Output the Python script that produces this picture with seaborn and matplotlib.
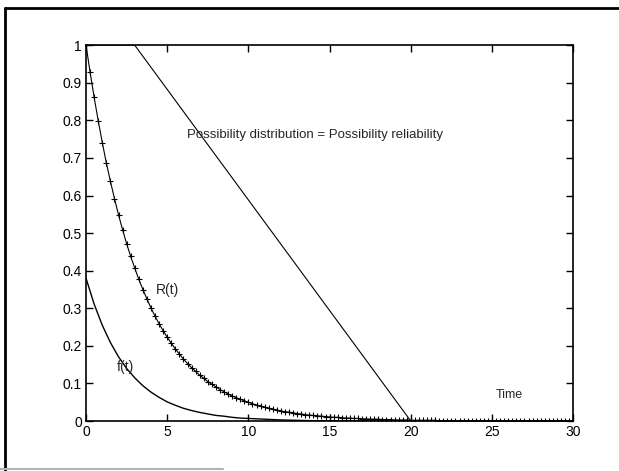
import numpy as np
import pandas as pd
import seaborn as sns
import matplotlib.pyplot as plt
from matplotlib.lines import Line2D

sns.set_theme(style="white")
plt.rcParams['font.family'] = ['Liberation Sans', 'DejaVu Sans']

# R(t) (t step 0.25)
t_R = np.arange(0, 30.01, 0.25)
R_vals = [1.000, 0.928, 0.861, 0.799, 0.741, 0.687, 0.638, 0.592,
          0.549, 0.509, 0.472, 0.438, 0.407, 0.377, 0.350, 0.325,
          0.301, 0.279, 0.259, 0.240, 0.223, 0.207, 0.192, 0.178,
          0.165, 0.153, 0.142, 0.132, 0.122, 0.114, 0.105, 0.098,
          0.091, 0.084, 0.078, 0.072, 0.067, 0.062, 0.058, 0.054,
          0.050, 0.046, 0.043, 0.040, 0.037, 0.034, 0.032, 0.029,
          0.027, 0.025, 0.024, 0.022, 0.020, 0.019, 0.017, 0.016,
          0.015, 0.014, 0.013, 0.012, 0.011, 0.010, 0.010, 0.009,
          0.008, 0.008, 0.007, 0.007, 0.006, 0.006, 0.005, 0.005,
          0.005, 0.004, 0.004, 0.004, 0.003, 0.003, 0.003, 0.003,
          0.002, 0.002, 0.002, 0.002, 0.002, 0.002, 0.002, 0.001,
          0.001, 0.001, 0.001, 0.001, 0.001, 0.001, 0.001, 0.001,
          0.001, 0.001, 0.001, 0.001, 0.001, 0.001, 0.000, 0.000,
          0.000, 0.000, 0.000, 0.000, 0.000, 0.000, 0.000, 0.000,
          0.000, 0.000, 0.000, 0.000, 0.000, 0.000, 0.000, 0.000,
          0.000]

# f(t), solid curve
t_f = [0, 0.5, 1, 1.5, 2, 2.5, 3, 3.5, 4, 4.5, 5, 5.5, 6, 6.5, 7, 7.5,
       8, 8.5, 9, 9.5, 10, 11, 12, 13, 14, 15, 20, 30]
f_vals = [0.380, 0.311, 0.255, 0.209, 0.171, 0.140, 0.115, 0.094, 0.077,
          0.063, 0.051, 0.042, 0.034, 0.028, 0.023, 0.019, 0.015, 0.013,
          0.010, 0.008, 0.007, 0.005, 0.003, 0.002, 0.001, 0.001, 0.000,
          0.000]

# possibility distribution (trapezoid)
t_pos = [0, 3, 20, 30]
pos_vals = [1, 1, 0, 0]

fig = plt.figure(figsize=(6.19, 4.71), dpi=100)
ax = fig.add_axes([0.139, 0.106, 0.787, 0.798])

sns.lineplot(x=t_pos, y=pos_vals, ax=ax, color="black", linewidth=0.8)
sns.lineplot(x=t_f, y=f_vals, ax=ax, color="black", linewidth=1.0)
sns.lineplot(x=t_R, y=R_vals, ax=ax, color="black", linewidth=0.8,
             marker="+", markersize=4.5, markeredgewidth=0.8,
             markeredgecolor="black")

ax.set_xlim(0, 30)
ax.set_ylim(0, 1)
ax.set_xticks([0, 5, 10, 15, 20, 25, 30])
ax.set_yticks(np.arange(0, 1.01, 0.1))
ax.set_yticklabels(["0", "0.1", "0.2", "0.3", "0.4", "0.5", "0.6",
                    "0.7", "0.8", "0.9", "1"])
ax.tick_params(direction="in", length=5, width=1, top=True, right=True,
               bottom=True, left=True, labelsize=10, colors="black", pad=3)
for s in ax.spines.values():
    s.set_color("black")
    s.set_linewidth(1.2)

ax.text(6.2, 0.76, "Possibility distribution = Possibility reliability",
        fontsize=9.5, va="center")
ax.text(4.3, 0.35, "R(t)", fontsize=10, va="center")
ax.text(1.9, 0.145, "f(t)", fontsize=10, va="center")
ax.text(25.2, 0.07, "Time", fontsize=9, va="center")

# outer frame of the scanned figure
fig.add_artist(Line2D([0.008, 1.0], [0.982, 0.982], color="black", lw=2))
fig.add_artist(Line2D([0.008, 0.008], [0.0, 0.982], color="black", lw=2))
fig.add_artist(Line2D([0.0, 0.36], [0.004, 0.004], color="0.7", lw=1.5))

fig.savefig("out.png", dpi=100)
